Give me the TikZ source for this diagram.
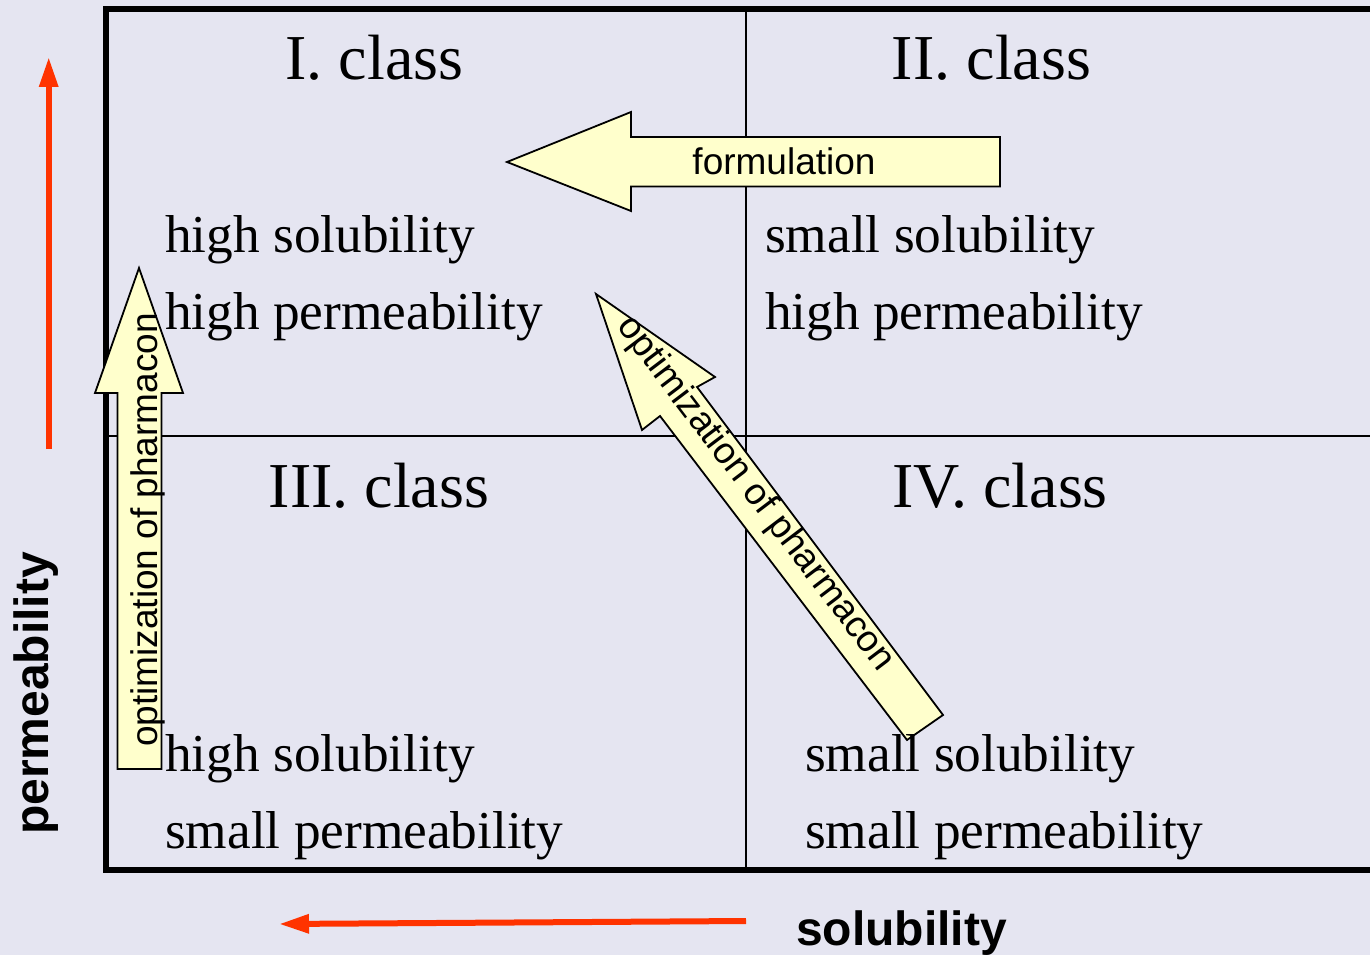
\documentclass[tikz,border=0pt]{standalone}
\usepackage{fontspec}
\setmainfont{Liberation Serif}
\newfontfamily\sansf{Liberation Sans}
\usetikzlibrary{arrows.meta}
\definecolor{bg}{RGB}{229,229,241}
\definecolor{fatyellow}{RGB}{255,255,204}
\definecolor{redarrow}{RGB}{255,51,0}
\tikzset{
 gridline/.style={line width=2.5pt},
 frameline/.style={line width=6pt, line join=miter},
 fat/.style={draw=black, fill=fatyellow, line width=1.8pt, line join=miter},
 redax/.style={draw=redarrow, line width=6pt, -{Triangle[width=18pt,length=30pt]}},
 quad/.style={font=\fontsize{53.3}{60}\selectfont, inner sep=0pt, anchor=base west},
 classlbl/.style={font=\fontsize{64}{70}\selectfont, inner sep=0pt, anchor=base},
 arrowlbl/.style={font=\sansf\fontsize{37}{42}\selectfont, inner sep=0pt},
 axislbl/.style={font=\sansf\bfseries\fontsize{48}{54}\selectfont, inner sep=0pt},
}
\begin{document}
\begin{tikzpicture}[x=1pt,y=-1pt]
\useasboundingbox (0,0) rectangle (1370,955);
\clip (0,0) rectangle (1370,955);
\fill[bg] (0,0) rectangle (1370,955);

% grid
\draw[gridline] (746,9) -- (746,870);
\draw[gridline] (106,436) -- (1375,436);
\draw[frameline] (1380,9) -- (106,9) -- (106,870) -- (1380,870);

% red axis arrows
\coordinate (upS) at (48.7,449);
\coordinate (upE) at (48.7,57);
\draw[redax] (upS) -- (upE);
\coordinate (leftS) at (746,921);
\coordinate (leftE) at (279,924);
\draw[redax] (leftS) -- (leftE);

% vertical fat arrow
\coordinate (v1) at (117.5,769);
\coordinate (v2) at (161.5,769);
\coordinate (v3) at (161.5,393);
\coordinate (v4) at (183,393);
\coordinate (v5) at (139,268);
\coordinate (v6) at (95,393);
\coordinate (v7) at (117.5,393);
\draw[fat] (v1) -- (v2) -- (v3) -- (v4) -- (v5) -- (v6) -- (v7) -- cycle;

% formulation fat arrow
\coordinate (f1) at (507,162);
\coordinate (f2) at (631,112);
\coordinate (f3) at (631,137);
\coordinate (f4) at (1000,137);
\coordinate (f5) at (1000,186.5);
\coordinate (f6) at (631,186.5);
\coordinate (f7) at (631,211);
\draw[fat] (f1) -- (f2) -- (f3) -- (f4) -- (f5) -- (f6) -- (f7) -- cycle;

% diagonal fat arrow
\coordinate (d1) at (596,294);
\coordinate (d2) at (715,377);
\coordinate (d3) at (697,387);
\coordinate (d4) at (943,715);
\coordinate (d5) at (907,740);
\coordinate (d6) at (660,416);
\coordinate (d7) at (642,430);
\draw[fat] (d1) -- (d2) -- (d3) -- (d4) -- (d5) -- (d6) -- (d7) -- cycle;

% arrow labels
\node[arrowlbl, anchor=base] (formlbl) at (784,174) {formulation};
\node[arrowlbl, anchor=base, rotate=90] (optv) at (157,530) {optimization of pharmacon};
\node[arrowlbl, anchor=center, rotate=-52.8] (optd) at (755,494) {optimization of pharmacon};

% class labels
\node[classlbl] (c1) at (374.5,80) {I. class};
\node[classlbl] (c2) at (991.5,80) {II. class};
\node[classlbl] (c3) at (379,507) {III. class};
\node[classlbl] (c4) at (1000,507) {IV. class};

% quadrant texts
\node[quad] (q1a) at (165,252.3) {high solubility};
\node[quad] (q1b) at (165,329) {high permeability};
\node[quad] (q2a) at (765,252.3) {small solubility};
\node[quad] (q2b) at (765,329) {high permeability};
\node[quad] (q3a) at (165,771) {high solubility};
\node[quad] (q3b) at (165,848) {small permeability};
\node[quad] (q4a) at (805,771) {small solubility};
\node[quad] (q4b) at (805,848) {small permeability};

% axis labels
\node[axislbl, anchor=base west] (sol) at (796,945) {solubility};
\node[axislbl, anchor=base west, rotate=90] (perm) at (48,835) {permeability};
\end{tikzpicture}
\end{document}
